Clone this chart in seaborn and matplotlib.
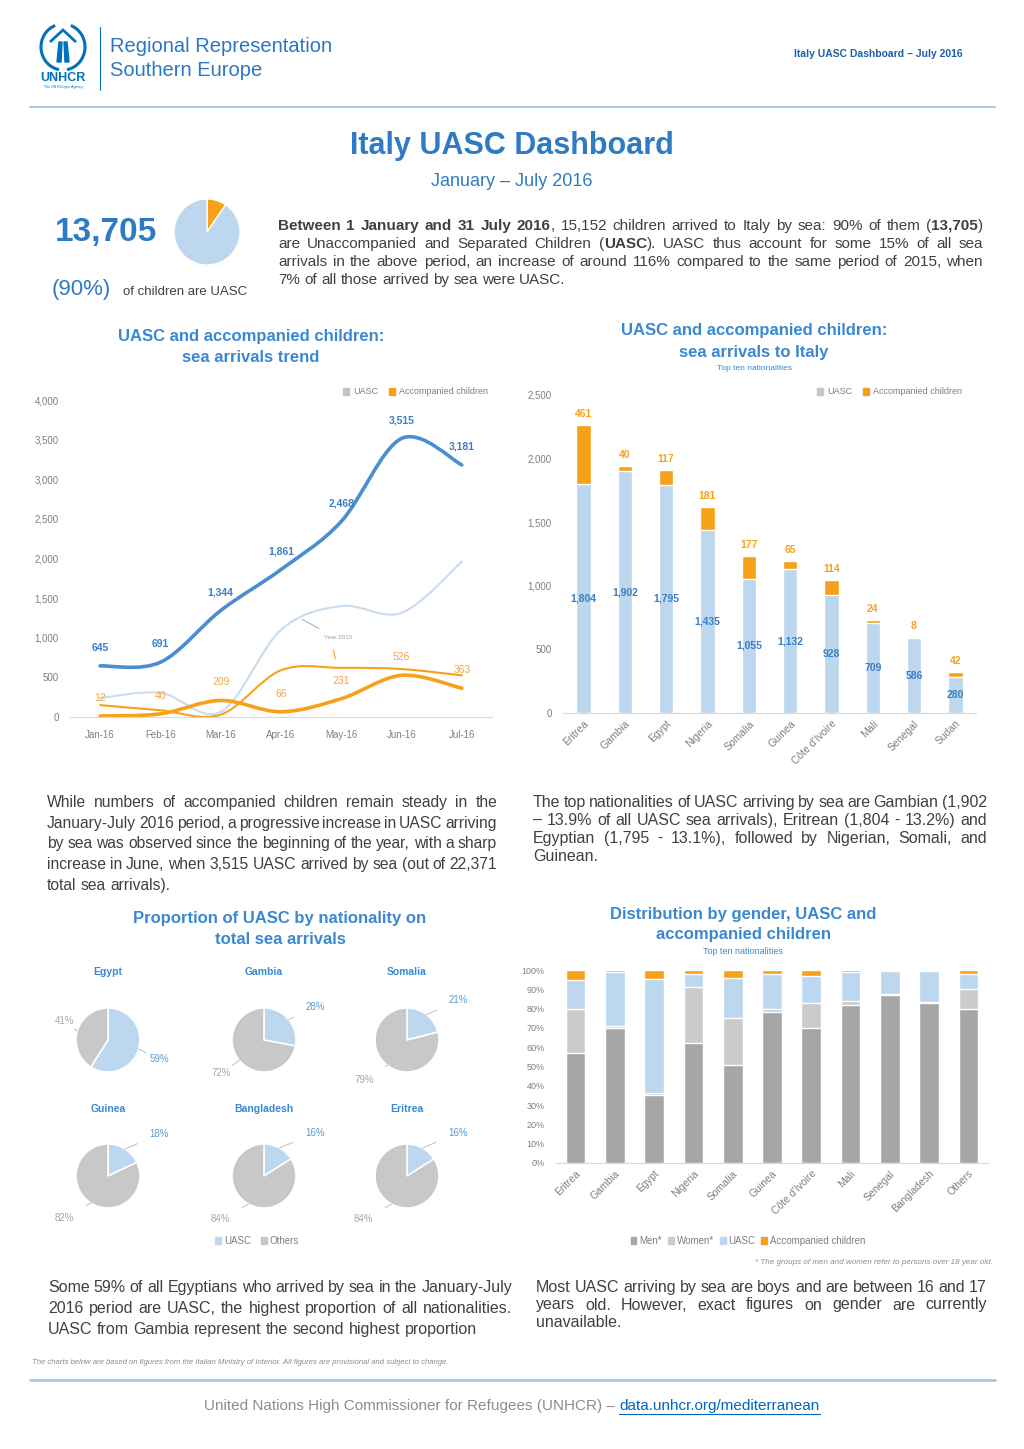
import matplotlib
matplotlib.use("Agg")
import numpy as np
import pandas as pd
import matplotlib.pyplot as plt
import seaborn as sns
from matplotlib.patches import Patch, PathPatch, Arc, Polygon
from matplotlib.path import Path
from matplotlib.lines import Line2D

W, H = 1024, 1449

# ---- data ----
months = ["Jan-16", "Feb-16", "Mar-16", "Apr-16", "May-16", "Jun-16", "Jul-16"]
uasc_2016 = [645, 691, 1344, 1861, 2468, 3515, 3181]
acc_2016 = [12, 40, 209, 66, 231, 526, 363]
uasc_2015 = [240, 305, 65, 1100, 1400, 1315, 1960]
acc_2015 = [150, 85, 30, 590, 620, 605, 525]

top_nat = ["Eritrea", "Gambia", "Egypt", "Nigeria", "Somalia", "Guinea",
           "Côte d'Ivoire", "Mali", "Senegal", "Sudan"]
uasc_nat = [1804, 1902, 1795, 1435, 1055, 1132, 928, 709, 586, 280]
acc_nat = [461, 40, 117, 181, 177, 65, 114, 24, 8, 42]

pie_nat = ["Egypt", "Gambia", "Somalia", "Guinea", "Bangladesh", "Eritrea"]
pie_uasc = [59, 28, 21, 18, 16, 16]
pie_others = [41, 72, 79, 82, 84, 84]

gender_nat = ["Eritrea", "Gambia", "Egypt", "Nigeria", "Somalia", "Guinea",
              "Côte d'Ivoire", "Mali", "Senegal", "Bangladesh", "Others"]
men = [57, 70, 35, 62, 51, 78, 70, 82, 87, 83, 80]
women = [23, 1, 1.5, 29, 24, 2, 13, 2, 0.5, 0.5, 10]
uasc_g = [15, 28, 59, 7, 21, 18, 14, 15, 12, 16, 8]
acc_g = [5, 1, 4.5, 2, 4, 2, 3, 1, 0.5, 0.5, 2]

children_total = 15152
uasc_total = 13705

# ---- colours ----
TITLE = "#2E7BC4"
HEAD = "#3A88D0"
LINE_BLUE = "#4A8ED0"
LABEL_BLUE = "#3B7FC4"
LIGHT_BLUE = "#BDD7EE"
LIGHT_LINE = "#C9DCEF"
ORANGE = "#F7A11A"
ORANGE_TXT = "#F4A64A"
MEN = "#A6A6A6"
WOMEN = "#CBCBCB"
PIE_GREY = "#C8C8C8"
TICK = "#7F7F7F"
TXT = "#404040"
RULE = "#A9C9E8"
NARROW = ["Liberation Sans Narrow", "Liberation Sans", "DejaVu Sans"]

sns.set_style("white")
plt.rcParams["font.family"] = ["Liberation Sans", "DejaVu Sans"]

fig = plt.figure(figsize=(W / 100, H / 100), dpi=100)
fig.patch.set_facecolor("white")
renderer = fig.canvas.get_renderer()


def fx(x):
    return x / W


def fy(y):
    return 1 - y / H


def T(x, y, s, **kw):
    kw.setdefault("ha", "left")
    kw.setdefault("va", "center")
    return fig.text(fx(x), fy(y), s, **kw)


def box(x0, y0, x1, y1):
    # axes from pixel box (left, top, right, bottom)
    return fig.add_axes([fx(x0), fy(y1), (x1 - x0) / W, (y1 - y0) / H])


def hline(x0, x1, y, color, lw):
    fig.add_artist(Line2D([fx(x0), fx(x1)], [fy(y), fy(y)], color=color, lw=lw))


def text_w(s, size, weight="normal", family=None):
    t = fig.text(0, 0, s, fontsize=size, fontweight=weight)
    if family:
        t.set_family(family)
    w = t.get_window_extent(renderer).width
    t.remove()
    return w


def parse(line):
    words, bold = [], False
    for raw in line.split(" "):
        pieces = []
        for i, p in enumerate(raw.split("**")):
            if i > 0:
                bold = not bold
            if p:
                pieces.append((p, bold))
        if pieces:
            words.append(pieces)
    return words


def paragraph(x0, x1, y0, step, lines, size, justify=True, color=TXT, family=NARROW):
    parsed = [parse(l) for l in lines]
    sp = text_w("x x", size, family=family) - text_w("xx", size, family=family)
    widest = 0
    for ws in parsed:
        nat = sum(text_w(p, size, "bold" if b else "normal", family) for w in ws for p, b in w)
        widest = max(widest, nat + 0.6 * sp * (len(ws) - 1))
    if widest > x1 - x0:
        size *= (x1 - x0) / widest
        sp = text_w("x x", size, family=family) - text_w("xx", size, family=family)
    for k, ws in enumerate(parsed):
        y = y0 + k * step
        arts, widths = [], []
        for w in ws:
            pieces, tot = [], 0
            for p, b in w:
                t = fig.text(0, fy(y), p, fontsize=size, color=color, family=family,
                             fontweight="bold" if b else "normal", va="baseline")
                pw = t.get_window_extent(renderer).width
                pieces.append((t, pw))
                tot += pw
            arts.append(pieces)
            widths.append(tot)
        last = k == len(parsed) - 1
        gap = sp
        if justify and not last and len(ws) > 1:
            gap = (x1 - x0 - sum(widths)) / (len(ws) - 1)
        x = x0
        for pieces in arts:
            for t, pw in pieces:
                t.set_x(fx(x))
                x += pw
            x += gap


def smooth(ax, xs, ys, **kw):
    # excel-like smoothed line drawn as bezier path in data coordinates
    pts = np.column_stack([xs, ys]).astype(float)
    n = len(pts)
    verts, codes = [pts[0]], [Path.MOVETO]
    for i in range(n - 1):
        p0, p1 = pts[max(i - 1, 0)], pts[i]
        p2, p3 = pts[i + 1], pts[min(i + 2, n - 1)]
        verts += [p1 + (p2 - p0) / 6, p2 - (p3 - p1) / 6, p2]
        codes += [Path.CURVE4] * 3
    ax.add_patch(PathPatch(Path(verts, codes), fill=False, capstyle="round", **kw))
    ax.update_datalim(pts)


def clean(ax, size=7):
    for s in ["top", "right", "left"]:
        ax.spines[s].set_visible(False)
    ax.spines["bottom"].set_color("#D9D9D9")
    ax.tick_params(length=0, labelsize=size, colors=TICK)
    ax.set_xlabel("")
    ax.set_ylabel("")


# ---- header ----
logo = box(28, 22, 98, 92)
logo.set_xlim(28, 98)
logo.set_ylim(92, 22)
logo.axis("off")
logo.add_patch(Arc((63, 47), 44, 46, theta1=100, theta2=250, color="#0072BC", lw=2.2))
logo.add_patch(Arc((63, 47), 44, 46, theta1=-70, theta2=80, color="#0072BC", lw=2.2))
logo.add_patch(Polygon([[50, 42], [63, 30], [76, 42]], closed=False, fill=False,
                       edgecolor="#0072BC", lw=2))
logo.add_patch(Polygon([[57, 62], [59, 42], [62, 42], [61, 62]], color="#0072BC"))
logo.add_patch(Polygon([[65, 62], [64, 42], [67, 42], [69, 62]], color="#0072BC"))
logo.text(63, 78, "UNHCR", ha="center", va="center", fontsize=9, fontweight="bold",
          color="#0072BC")
logo.text(63, 87, "The UN Refugee Agency", ha="center", va="center", fontsize=2.5,
          color="#0072BC")
fig.add_artist(Line2D([fx(100), fx(100)], [fy(27), fy(90)], color="#0072BC", lw=0.8))

T(110, 46, "Regional Representation", fontsize=14.5, color="#2A78C2", family=NARROW)
T(110, 70, "Southern Europe", fontsize=14.5, color="#2A78C2", family=NARROW)
T(963, 54, "Italy UASC Dashboard – July 2016", ha="right", fontsize=7.5,
  fontweight="bold", color="#1F5FA8", family=NARROW)
hline(30, 995, 107, RULE, 1.5)

T(512, 146, "Italy UASC Dashboard", ha="center", fontsize=22, fontweight="bold", color=TITLE)
T(512, 181, "January – July 2016", ha="center", fontsize=13, color=TITLE)

T(55, 233, f"{uasc_total:,}", fontsize=24, fontweight="bold", color=TITLE)
T(52, 290, f"({round(100 * uasc_total / children_total)}%)", fontsize=16, color=TITLE)
T(123, 292, "of children are UASC", fontsize=9.5, color=TXT, family=NARROW)

mini = box(171, 196, 243, 268)
mini.pie([children_total - uasc_total, uasc_total], colors=[ORANGE, LIGHT_BLUE],
         startangle=90, counterclock=False, wedgeprops=dict(edgecolor="white", linewidth=1))
mini.set_xlim(-1.09, 1.09)
mini.set_ylim(-1.09, 1.09)

paragraph(278, 983, 230, 18, [
    "**Between 1 January and 31 July 2016**, 15,152 children arrived to Italy by sea: 90% of them (**13,705**)",
    "are Unaccompanied and Separated Children (**UASC**). UASC thus account for some 15% of all sea",
    "arrivals in the above period, an increase of around 116% compared to the same period of 2015, when",
    "7% of all those arrived by sea were UASC.",
], 11)

# ---- section headings ----
for x, y, s in [(251, 336, "UASC and accompanied children:"), (251, 357, "sea arrivals trend"),
                (754, 331, "UASC and accompanied children:"), (754, 352, "sea arrivals to Italy"),
                (280, 918, "Proportion of UASC by nationality on"), (280, 939, "total sea arrivals"),
                (743, 914, "Distribution by gender, UASC and"), (743, 935, "accompanied children")]:
    T(x, y, s, ha="center", fontsize=12, fontweight="bold", color=HEAD)
T(754, 368, "Top ten nationalities", ha="center", fontsize=6, color=HEAD)
T(743, 951, "Top ten nationalities", ha="center", fontsize=6.5, color=HEAD)

# ---- line chart: monthly trend ----
ax = box(70, 400, 492, 717)
xs = np.arange(len(months))
smooth(ax, xs, uasc_2015, color=LIGHT_LINE, lw=1.5)
smooth(ax, xs, acc_2015, color=ORANGE, lw=1.5)
smooth(ax, xs, uasc_2016, color=LINE_BLUE, lw=2.6)
smooth(ax, xs, acc_2016, color=ORANGE, lw=2.6)
ax.set_xlim(-0.5, len(months) - 0.5)
ax.set_ylim(0, 4000)
yt = list(range(0, 4001, 500))
ax.set_yticks(yt)
ax.set_yticklabels([f"{t:,}" for t in yt])
ax.set_xticks(xs)
ax.set_xticklabels(months)
clean(ax)
ax.tick_params(axis="y", pad=8)
ax.tick_params(axis="x", pad=9)
for i, v in enumerate(uasc_2016):
    ax.annotate(f"{v:,}", (i, v), xytext=(0, 13), textcoords="offset points", ha="center",
                va="center", fontsize=7.5, fontweight="bold", color=LABEL_BLUE)
for i, v in enumerate(acc_2016):
    ax.annotate(f"{v:,}", (i, v), xytext=(0, 13), textcoords="offset points", ha="center",
                va="center", fontsize=7.5, color=ORANGE_TXT)
ax.text(3.94, 1000, "Year 2015", fontsize=4.5, color="#A0A0A0", ha="center", va="center")
ax.annotate("", xy=(3.31, 1250), xytext=(3.67, 1100),
            arrowprops=dict(arrowstyle="-", color="#9DB9D8", lw=0.8))
ax.annotate("", xy=(3.86, 880), xytext=(3.91, 700),
            arrowprops=dict(arrowstyle="-", color=ORANGE, lw=0.8))
fig.legend(handles=[Patch(color="#BFC6CE", label="UASC"),
                    Patch(color=ORANGE, label="Accompanied children")],
           loc="center right", bbox_to_anchor=(fx(496), fy(392)), ncol=2, frameon=False,
           fontsize=6.5, handlelength=0.7, handleheight=0.7, handletextpad=0.4,
           columnspacing=1.2, labelcolor=TICK)

# ---- bar chart: top ten nationalities ----
nat_df = pd.DataFrame({"nat": top_nat, "uasc": uasc_nat, "acc": acc_nat})
nat_df["total"] = nat_df["uasc"] + nat_df["acc"]
ax2 = box(563, 395, 976, 713)
sns.barplot(data=nat_df, x="nat", y="total", color=ORANGE, saturation=1, width=0.35,
            errorbar=None, ax=ax2)
sns.barplot(data=nat_df, x="nat", y="uasc", color=LIGHT_BLUE, saturation=1, width=0.35,
            errorbar=None, ax=ax2)
ax2.set_ylim(0, 2500)
yt = list(range(0, 2501, 500))
ax2.set_yticks(yt)
ax2.set_yticklabels([f"{t:,}" for t in yt])
clean(ax2)
ax2.tick_params(axis="y", pad=8)
ax2.tick_params(axis="x", pad=4, labelsize=7.5)
plt.setp(ax2.get_xticklabels(), rotation=45, ha="right", rotation_mode="anchor")
for i, row in nat_df.iterrows():
    ax2.text(i, row["uasc"] / 2, f"{row['uasc']:,}", ha="center", va="center", fontsize=7.5,
             fontweight="bold", color=LABEL_BLUE)
    ax2.annotate(f"{row['acc']:,}", (i, row["total"]), xytext=(0, 8), textcoords="offset points",
                 ha="center", va="center", fontsize=7.5, fontweight="bold", color=ORANGE)
fig.legend(handles=[Patch(color="#BFC6CE", label="UASC"),
                    Patch(color=ORANGE, label="Accompanied children")],
           loc="center right", bbox_to_anchor=(fx(970), fy(392)), ncol=2, frameon=False,
           fontsize=6.5, handlelength=0.7, handleheight=0.7, handletextpad=0.4,
           columnspacing=1.2, labelcolor=TICK)

# ---- text under first charts ----
paragraph(47, 497, 807, 20.7, [
    "While numbers of accompanied children remain steady in the",
    "January-July 2016 period, a progressive increase in UASC arriving",
    "by sea was observed since the beginning of the year, with a sharp",
    "increase in June, when 3,515 UASC arrived by sea (out of 22,371",
    "total sea arrivals).",
], 11.5)
paragraph(533, 987, 807, 18, [
    "The top nationalities of UASC arriving by sea are Gambian (1,902",
    "– 13.9% of all UASC sea arrivals), Eritrean (1,804 - 13.2%) and",
    "Egyptian (1,795 - 13.1%), followed by Nigerian, Somali, and",
    "Guinean.",
], 11.5)

# ---- small pies: share of UASC by nationality ----
centers = [(108, 1040), (264, 1040), (407, 1040), (108, 1176), (264, 1176), (407, 1176)]
title_y = [972, 972, 972, 1109, 1109, 1109]
for (cx, cy), ty, name, u, o in zip(centers, title_y, pie_nat, pie_uasc, pie_others):
    pa = box(cx - 60, cy - 60, cx + 60, cy + 60)
    pa.pie([u, o], colors=[LIGHT_BLUE, PIE_GREY], startangle=90, counterclock=False,
           wedgeprops=dict(edgecolor="white", linewidth=1.2))
    pa.set_xlim(-1.875, 1.875)
    pa.set_ylim(-1.875, 1.875)
    share_u = u / (u + o)
    for frac, mid, col, side in [(u, 90 - 180 * share_u, "#5B9BD5", 1),
                                 (o, 90 - 360 * share_u - 180 * (1 - share_u), "#A6A6A6", -1)]:
        a = np.deg2rad(mid)
        dx, dy = np.cos(a), np.sin(a)
        lx = 1.6 if side > 0 else -1.35
        ly = 1.25 * dy + 0.25 * np.sign(dy)
        pa.annotate(f"{frac}%", xy=(dx, dy), xytext=(lx, ly), ha="center", va="center",
                    fontsize=7, color=col,
                    arrowprops=dict(arrowstyle="-", color="#BFBFBF", lw=0.7,
                                    shrinkA=7, shrinkB=0))
    T(cx, ty, name, ha="center", fontsize=7.5, fontweight="bold", color=HEAD)
fig.legend(handles=[Patch(color=LIGHT_BLUE, label="UASC"), Patch(color=PIE_GREY, label="Others")],
           loc="center", bbox_to_anchor=(fx(257), fy(1241)), ncol=2, frameon=False,
           fontsize=7, handlelength=0.6, handleheight=0.6, handletextpad=0.3,
           columnspacing=1.0, labelcolor=TICK)

# ---- stacked 100% bars: gender, UASC, accompanied ----
g = pd.DataFrame({"nat": gender_nat, "men": men, "women": women, "uasc": uasc_g, "acc": acc_g})
g["c1"] = g["men"]
g["c2"] = g["c1"] + g["women"]
g["c3"] = g["c2"] + g["uasc"]
g["c4"] = g["c3"] + g["acc"]
ax3 = box(556, 970, 988, 1163)
for col, c in [("c4", ORANGE), ("c3", LIGHT_BLUE), ("c2", WOMEN), ("c1", MEN)]:
    sns.barplot(data=g, x="nat", y=col, color=c, saturation=1, width=0.5, errorbar=None, ax=ax3)
ax3.set_ylim(0, 100)
yt = list(range(0, 101, 10))
ax3.set_yticks(yt)
ax3.set_yticklabels([f"{t}%" for t in yt])
clean(ax3, 6.5)
ax3.tick_params(axis="y", pad=8)
ax3.tick_params(axis="x", pad=4, labelsize=7.5)
plt.setp(ax3.get_xticklabels(), rotation=45, ha="right", rotation_mode="anchor")
fig.legend(handles=[Patch(color=MEN, label="Men*"), Patch(color=WOMEN, label="Women*"),
                    Patch(color=LIGHT_BLUE, label="UASC"),
                    Patch(color=ORANGE, label="Accompanied children")],
           loc="center", bbox_to_anchor=(fx(748), fy(1241)), ncol=4, frameon=False,
           fontsize=7, handlelength=0.6, handleheight=0.6, handletextpad=0.3,
           columnspacing=0.6, labelcolor=TICK)
T(993, 1262, "* The groups of men and women refer to persons over 18 year old.", ha="right",
  fontsize=5.8, style="italic", color="#8C8C8C")

# ---- bottom text ----
paragraph(48, 512, 1292, 20.8, [
    "Some 59% of all Egyptians who arrived by sea in the January-July",
    "2016 period are UASC, the highest proportion of all nationalities.",
    "UASC from Gambia represent the second highest proportion",
], 11.5)
paragraph(536, 987, 1292, 17.5, [
    "Most UASC arriving by sea are boys and are between 16 and 17",
    "years old. However, exact figures on gender are currently",
    "unavailable.",
], 11.5)
T(32, 1362, "The charts below are based on figures from the Italian Ministry of Interior. "
  "All figures are provisional and subject to change.", fontsize=5.6, style="italic",
  color="#8C8C8C")
hline(30, 995, 1380, RULE, 2)

grey = "United Nations High Commissioner for Refugees (UNHCR) – "
link = "data.unhcr.org/mediterranean"
w1, w2 = text_w(grey, 11, family=NARROW), text_w(link, 11, family=NARROW)
start = 512 - (w1 + w2) / 2
T(start, 1406, grey, fontsize=11, color="#8C8C8C", family=NARROW)
T(start + w1, 1406, link, fontsize=11, color="#0563C1", family=NARROW)
hline(start + w1, start + w1 + w2, 1414, "#0563C1", 0.8)

fig.savefig("out.png", dpi=100, facecolor="white")
